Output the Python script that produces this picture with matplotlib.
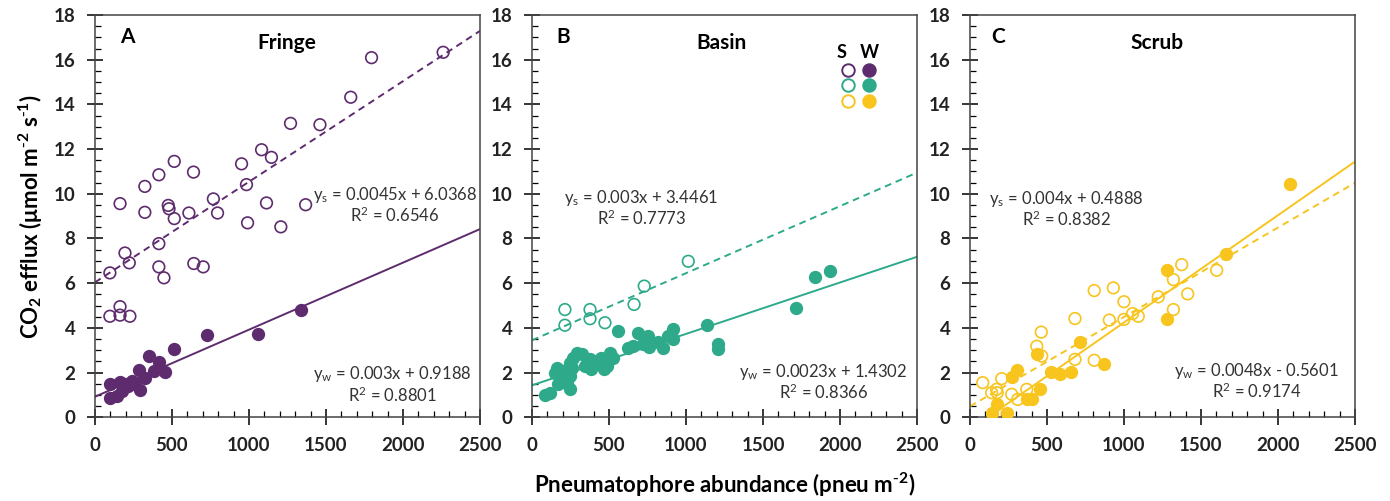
import matplotlib as mpl
mpl.use('Agg')
import matplotlib.pyplot as plt
from matplotlib.lines import Line2D
from matplotlib.ticker import MultipleLocator
import numpy as np

plt.rcParams['font.family'] = ['Lato', 'DejaVu Sans']
plt.rcParams['mathtext.default'] = 'regular'

# --- données ---
sites = ["Fringe", "Basin", "Scrub"]
letters = ["A", "B", "C"]
colors = ["#5E2C6E", "#2EAA8A", "#F8C41E"]

# Fringe : saison sèche (s, cercles vides) / humide (w, cercles pleins)
fringe_s_x = [1796, 2261, 1661, 1270, 1461, 1082, 1146, 515, 415, 324, 640, 952, 984,
              163, 324, 476, 481, 515, 610, 769, 796, 991, 1114, 1207, 1368, 415,
              97, 223, 195, 415, 448, 642, 703, 97, 163, 163, 227]
fringe_s_y = [16.09, 16.33, 14.32, 13.15, 13.09, 11.97, 11.63, 11.45, 10.85, 10.33, 10.97, 11.34, 10.41,
              9.56, 9.17, 9.48, 9.33, 8.89, 9.14, 9.77, 9.14, 8.70, 9.59, 8.52, 9.51, 7.77,
              6.46, 6.91, 7.35, 6.73, 6.24, 6.88, 6.73, 4.52, 4.95, 4.57, 4.52]
fringe_w_x = [1341, 1062, 729, 515, 352, 417, 385, 454, 288, 324, 97, 163, 195, 238,
              259, 292, 97, 141, 173, 216]
fringe_w_y = [4.82, 3.74, 3.66, 3.07, 2.74, 2.47, 2.07, 2.04, 2.11, 1.77, 1.47, 1.58, 1.47, 1.62,
              1.47, 1.22, 0.88, 0.95, 1.18, 1.40]

basin_s_x = [1015, 729, 663, 214, 377, 214, 377, 474]
basin_s_y = [6.98, 5.87, 5.05, 4.82, 4.82, 4.12, 4.41, 4.23]
basin_w_x = [1935, 1838, 1713, 1138, 1206, 1206, 918, 918, 885, 852, 816, 755, 761, 718,
             690, 658, 626, 560, 528, 507, 485, 467, 448, 409, 377, 381, 344, 323, 291,
             269, 247, 257, 247, 247, 225, 193, 171, 160, 149, 182, 204, 214, 117, 85]
basin_w_y = [6.53, 6.28, 4.90, 4.12, 3.30, 3.04, 3.96, 3.51, 3.63, 3.11, 3.36, 3.63, 3.16, 3.30,
             3.75, 3.18, 3.11, 3.85, 2.67, 2.89, 2.29, 2.14, 2.67, 2.47, 2.62, 2.14, 2.29, 2.81, 2.89,
             2.67, 2.44, 2.22, 1.84, 1.25, 1.55, 1.70, 1.47, 2.22, 2.00, 1.92, 2.07, 1.84, 1.07, 0.98]

scrub_s_x = [1602, 1375, 1414, 1321, 1321, 1223, 1093, 1056, 1000, 1000, 931, 905, 807, 807,
             682, 682, 463, 434, 466, 369, 310, 271, 206, 173, 141, 83, 177]
scrub_s_y = [6.58, 6.83, 5.52, 6.16, 4.82, 5.39, 4.52, 4.64, 5.17, 4.38, 5.79, 4.35, 5.67, 2.55,
             4.42, 2.59, 3.81, 3.18, 2.74, 1.25, 0.80, 1.03, 1.73, 1.25, 1.10, 1.55, 1.10]
scrub_w_x = [2078, 1661, 1277, 1277, 872, 715, 656, 585, 524, 437, 455, 401, 369, 303,
             271, 238, 141, 173]
scrub_w_y = [10.45, 7.32, 6.61, 4.41, 2.37, 3.36, 2.02, 1.95, 2.02, 2.81, 1.28, 0.83, 0.80, 2.11,
             1.82, 0.21, 0.21, 0.58]

# droites de régression (pente, ordonnée à l'origine, R²)
slope_s = [0.0045, 0.003, 0.004]
icpt_s = [6.0368, 3.4461, 0.4888]
r2_s = [0.6546, 0.7773, 0.8382]
slope_w = [0.003, 0.0023, 0.0048]
icpt_w = [0.9188, 1.4302, -0.5601]
r2_w = [0.8801, 0.8366, 0.9174]

data_s = [(fringe_s_x, fringe_s_y), (basin_s_x, basin_s_y), (scrub_s_x, scrub_s_y)]
data_w = [(fringe_w_x, fringe_w_y), (basin_w_x, basin_w_y), (scrub_w_x, scrub_w_y)]

# positions des textes (coordonnées des données)
letter_x = [208, 201, 182]
site_x = [1245, 1232, 1212]
eq_s_pos = [(1948, 9.96), (712, 9.81), (628, 9.77)]
eq_w_pos = [(1929, 1.92), (1892, 2.02), (1862, 2.07)]

fig = plt.figure(figsize=(13.9, 5.01), dpi=100)
lefts = [0.0683, 0.3827, 0.6978]
xx = np.array([0, 2500])

for i in range(3):
    ax = fig.add_axes([lefts[i], 0.1671, 0.277, 0.803])
    c = colors[i]
    sx, sy = data_s[i]
    wx, wy = data_w[i]
    ax.plot(xx, slope_s[i] * xx + icpt_s[i], ls=(0, (3.5, 2.5)), color=c, lw=1.4, zorder=2)
    ax.plot(xx, slope_w[i] * xx + icpt_w[i], ls='-', color=c, lw=1.4, zorder=2)
    ax.scatter(sx, sy, s=70, facecolors='none', edgecolors=c, linewidths=1.2, zorder=3)
    ax.scatter(wx, wy, s=70, facecolors=c, edgecolors=c, linewidths=1.2, zorder=3)

    ax.set_xlim(0, 2500)
    ax.set_ylim(0, 18)
    ax.xaxis.set_major_locator(MultipleLocator(500))
    ax.xaxis.set_minor_locator(MultipleLocator(100))
    ax.yaxis.set_major_locator(MultipleLocator(2))
    ax.yaxis.set_minor_locator(MultipleLocator(0.5))
    ax.tick_params(which='major', direction='inout', length=12, width=1.1, labelsize=13.5)
    ax.tick_params(axis='x', which='major', pad=8)
    ax.tick_params(axis='y', which='major', pad=8)
    ax.tick_params(which='minor', direction='in', length=4, width=0.9)
    for lab in ax.get_xticklabels() + ax.get_yticklabels():
        lab.set_fontweight('bold')
        lab.set_color('#222222')
    for sp in ax.spines.values():
        sp.set_color('#444444')
        sp.set_linewidth(1.1)

    ax.text(letter_x[i], 17.0, letters[i], fontsize=15, fontweight='bold', ha='center', va='center')
    ax.text(site_x[i], 16.73, sites[i], fontsize=15, fontweight='bold', ha='center', va='center')

    ex, ey = eq_s_pos[i]
    ax.text(ex, ey, "y$_s$ = %sx + %s" % (slope_s[i], icpt_s[i]), fontsize=12,
            ha='center', va='center', color='#333333')
    ax.text(ex, ey - 0.92, "R$^2$ = %.4f" % r2_s[i], fontsize=12,
            ha='center', va='center', color='#333333')
    ex, ey = eq_w_pos[i]
    sign = '+' if icpt_w[i] >= 0 else '-'
    ax.text(ex, ey, "y$_w$ = %sx %s %s" % (slope_w[i], sign, abs(icpt_w[i])), fontsize=12,
            ha='center', va='center', color='#333333')
    ax.text(ex, ey - 0.92, "R$^2$ = %.4f" % r2_w[i], fontsize=12,
            ha='center', va='center', color='#333333')

    if i == 0:
        ax.set_ylabel("CO$_2$ efflux (μmol m$^{\\text{-}2}$ s$^{\\text{-}1}$)", fontsize=16,
                      fontweight='bold', labelpad=6)
    if i == 1:
        ax.set_xlabel("Pneumatophore abundance (pneu m$^{\\text{-}2}$)", fontsize=16,
                      fontweight='bold', labelpad=12)
        # légende S / W
        hs = [Line2D([], [], ls='none', marker='o', ms=9, mfc='none', mec=cc, mew=1.4)
              for cc in colors]
        hw = [Line2D([], [], ls='none', marker='o', ms=9, mfc=cc, mec=cc, mew=1.4)
              for cc in colors]
        leg = ax.legend(hs + hw, [''] * 6, ncol=2, frameon=False, title='S   W',
                        handlelength=0.8, handletextpad=0, columnspacing=0.7,
                        labelspacing=0.25, borderpad=0,
                        loc='upper left', bbox_to_anchor=(0.775, 0.945))
        leg.get_title().set_fontweight('bold')
        leg.get_title().set_fontsize(13)

plt.savefig('out.png')
